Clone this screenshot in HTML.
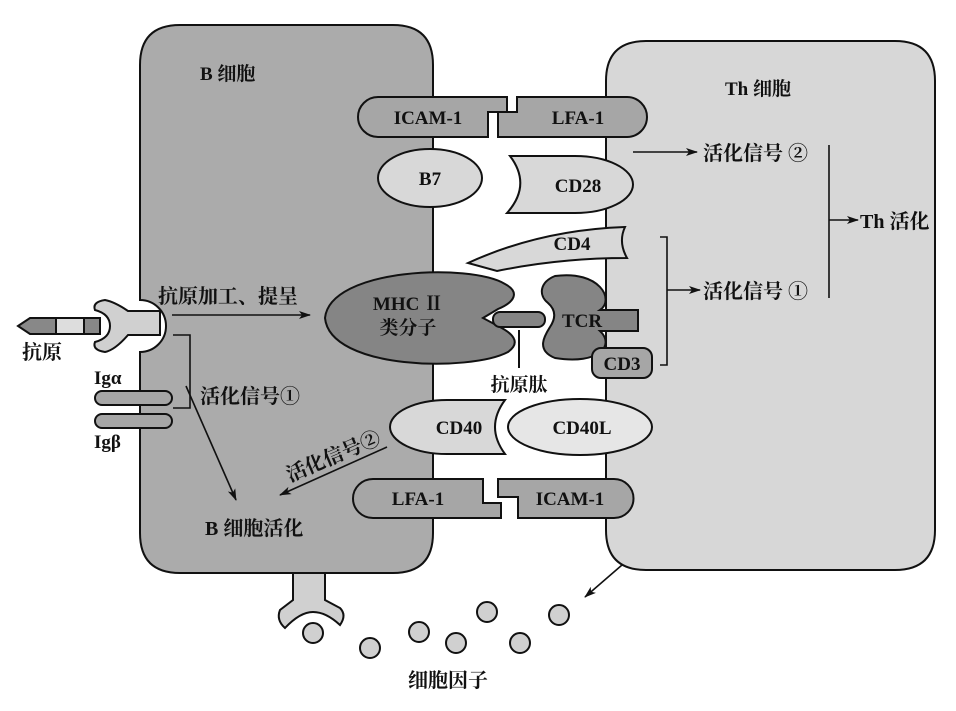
<!DOCTYPE html>
<html><head><meta charset="utf-8"><style>
html,body{margin:0;padding:0;background:#fff;}
svg text{font-family:"Liberation Serif","Noto Serif CJK SC",serif;font-weight:bold;fill:#111;}
</style></head><body>
<svg width="956" height="706" viewBox="0 0 956 706" xmlns="http://www.w3.org/2000/svg">
<defs><marker id="ah" markerWidth="12" markerHeight="8" refX="11" refY="4" orient="auto" markerUnits="userSpaceOnUse"><path d="M0,0 L12,4 L0,8 L3,4 Z" fill="#111"/></marker></defs>
<g stroke="#111" stroke-width="2">
<path d="M180,25 H393 Q433,25 433,65 V533 Q433,573 393,573 H180 Q140,573 140,533 V352 A20,20 0 0 0 140,300 V65 Q140,25 180,25 Z" fill="#ababab"/>
<path d="M646,41 H895 Q935,41 935,81 V530 Q935,570 895,570 H646 Q606,570 606,530 V81 Q606,41 646,41 Z" fill="#d7d7d7"/>
<path d="M378,97 H507 V112 H488 V137 H378 A20,20 0 0 1 378,97 Z" fill="#a6a6a6"/>
<path d="M517,97 H627 A20,20 0 0 1 627,137 H498 V112 H517 Z" fill="#a6a6a6"/>
<ellipse cx="430" cy="178" rx="52" ry="29" fill="#d8d8d8"/>
<path d="M510,156 H575 A58,28.5 0 0 1 575,213 H507 Q532,185 510,156 Z" fill="#d8d8d8"/>
<path d="M468,263 Q540,230 625,227 Q618,242 627,258 Q560,258 497,271 Z" fill="#d8d8d8"/>
<path d="M505,284 C470,263 330,268 325,318 C330,370 470,372 508,352 C522,342 512,333 498,326 L483,318 L498,309 C515,302 520,292 505,284 Z" fill="#858585"/>
<rect x="493" y="312" width="52" height="15" rx="7" fill="#858585"/>
<path d="M555,276 C600,270 615,300 600,310 H638 V331 H600 C615,345 600,365 555,358 C535,350 545,335 550,327 C556,318 556,310 548,303 C538,295 540,282 555,276 Z" fill="#858585"/>
<line x1="519" y1="330" x2="519" y2="368"/>
<rect x="592" y="348" width="60" height="30" rx="9" fill="#a6a6a6"/>
<path d="M447,400 H505 Q485,427 505,454 H447 A57,27 0 0 1 447,400 Z" fill="#d8d8d8"/>
<ellipse cx="580" cy="427" rx="72" ry="28" fill="#e6e6e6"/>
<path d="M373,479 H483 V503 H501 V518 H373 A20,19.5 0 0 1 373,479 Z" fill="#a6a6a6"/>
<path d="M498,479 H614 A19.5,19.5 0 0 1 614,518 H518 V497 H498 Z" fill="#a6a6a6"/>
<path d="M293,573 V600 L280,610 Q276,620 285,628 Q300,612 313,612 Q326,612 340,625 Q347,615 340,608 L325,600 V573 Z" fill="#d0d0d0"/>
<path d="M160,311 H128 Q115,302 105,300 Q92,302 95,310 Q110,314 110,326 Q110,338 95,342 Q92,350 105,352 Q115,350 128,335 H160 Z" fill="#d0d0d0"/>
<path d="M18,326 L30,318 H100 V334 H30 Z" fill="#888"/>
<rect x="56" y="318" width="28" height="16" fill="#ddd"/>
<rect x="95" y="391" width="77" height="14" rx="7" fill="#a6a6a6"/>
<rect x="95" y="414" width="77" height="14" rx="7" fill="#a6a6a6"/>
<g fill="#d0d0d0">
<circle cx="313" cy="633" r="10"/><circle cx="370" cy="648" r="10"/><circle cx="419" cy="632" r="10"/><circle cx="487" cy="612" r="10"/><circle cx="456" cy="643" r="10"/><circle cx="520" cy="643" r="10"/><circle cx="559" cy="615" r="10"/>
</g>
<g fill="none" stroke-width="1.6">
<line x1="622" y1="565" x2="585" y2="597" marker-end="url(#ah)"/>
<line x1="172" y1="315" x2="310" y2="315" marker-end="url(#ah)"/>
<polyline points="173,335 190,335 190,408 173,408"/>
<line x1="186" y1="386" x2="236" y2="500" marker-end="url(#ah)"/>
<line x1="387" y1="447" x2="280" y2="495" marker-end="url(#ah)"/>
<line x1="633" y1="152" x2="697" y2="152" marker-end="url(#ah)"/>
<line x1="829" y1="145" x2="829" y2="298"/>
<line x1="829" y1="220" x2="858" y2="220" marker-end="url(#ah)"/>
<polyline points="660,237 667,237 667,365 660,365"/>
<line x1="667" y1="290" x2="700" y2="290" marker-end="url(#ah)"/>
</g>
</g>
<g font-size="19">
<text x="200" y="80">B 细胞</text>
<text x="725" y="95">Th 细胞</text>
<text x="428" y="124" text-anchor="middle">ICAM-1</text>
<text x="578" y="124" text-anchor="middle">LFA-1</text>
<text x="430" y="185" text-anchor="middle">B7</text>
<text x="578" y="192" text-anchor="middle">CD28</text>
<text x="572" y="250" text-anchor="middle">CD4</text>
<text x="408" y="310" text-anchor="middle">MHC Ⅱ</text>
<text x="408" y="334" text-anchor="middle">类分子</text>
<text x="582" y="327" text-anchor="middle">TCR</text>
<text x="622" y="370" text-anchor="middle">CD3</text>
<text x="519" y="391" text-anchor="middle">抗原肽</text>
<text x="459" y="434" text-anchor="middle">CD40</text>
<text x="582" y="434" text-anchor="middle">CD40L</text>
<text x="418" y="505" text-anchor="middle">LFA-1</text>
<text x="570" y="505" text-anchor="middle">ICAM-1</text>
<text x="158" y="303" font-size="20">抗原加工、提呈</text>
<text x="22" y="359" font-size="20">抗原</text>
<text x="94" y="384">Igα</text>
<text x="94" y="448">Igβ</text>
<text x="200" y="403" font-size="20">活化信号①</text>
<text x="205" y="535" font-size="20">B 细胞活化</text>
<text x="0" y="0" font-size="20" transform="translate(290,482) rotate(-23)">活化信号②</text>
<text x="703" y="160" font-size="20">活化信号 ②</text>
<text x="703" y="298" font-size="20">活化信号 ①</text>
<text x="860" y="228" font-size="20">Th 活化</text>
<text x="448" y="687" text-anchor="middle" font-weight="normal" font-size="20">细胞因子</text>
</g>
</svg>
</body></html>
